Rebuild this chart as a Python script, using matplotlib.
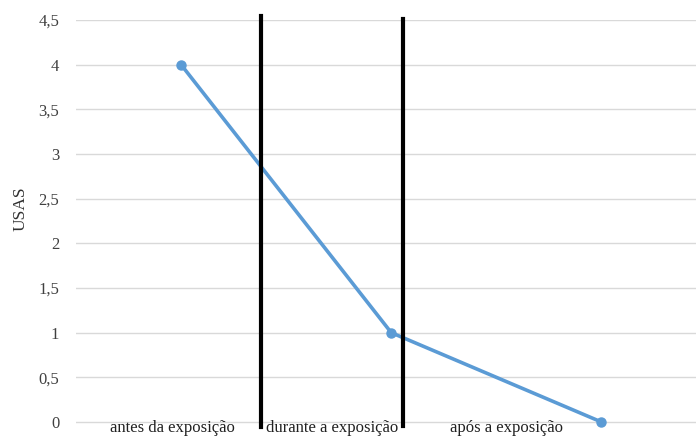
import matplotlib
matplotlib.use("Agg")
import matplotlib.pyplot as plt
from matplotlib.ticker import FuncFormatter

plt.rcParams['font.family'] = ['Liberation Serif', 'DejaVu Serif']

# data
phases = [0, 1, 2]
usas = [4, 1, 0]
phase_labels = ["antes da exposição", "durante a exposição", "após a exposição"]
label_x = [-0.04, 0.72, 1.55]
divider_x = [0.38, 1.055]
yticks = [0, 0.5, 1, 1.5, 2, 2.5, 3, 3.5, 4, 4.5]

fig = plt.figure(figsize=(6.96, 4.36), dpi=100)
ax = fig.add_axes([76 / 696, 0, 1 - 76 / 696, 1 - 20 / 436])

ax.set_xlim(-0.5, 2.45)
ax.set_ylim(-14 / 89.3, 4.5)

ax.set_yticks(yticks)
ax.yaxis.set_major_formatter(FuncFormatter(lambda v, p: f"{v:g}".replace(".", ",")))
ax.tick_params(axis="y", length=0, pad=12, labelsize=12, labelcolor="#404040")
ax.set_xticks([])
for s in ax.spines.values():
    s.set_visible(False)
for y in yticks:
    ax.axhline(y, color="#d9d9d9", lw=1, zorder=0)

ax.plot(phases, usas, color="#5b9bd5", lw=2.6, marker="o", ms=6.5, zorder=3,
        solid_capstyle="round")

# divider lines
ax.plot([divider_x[0]] * 2, [-0.06, 4.54], color="black", lw=3, clip_on=False, zorder=4)
ax.plot([divider_x[1]] * 2, [-0.04, 4.51], color="black", lw=3, clip_on=False, zorder=4)

for x, t in zip(label_x, phase_labels):
    ax.text(x, -0.065, t, ha="center", va="center", fontsize=12, color="#202020")

ax.set_ylabel("USAS", fontsize=12.5, color="#303030")
ax.yaxis.set_label_coords(-0.077, 0.546)

fig.savefig("out.png", dpi=100)
